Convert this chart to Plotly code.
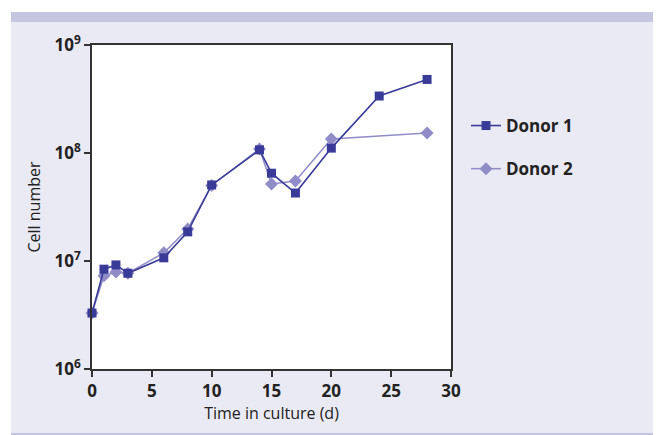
import plotly.graph_objects as go

days1 = [0, 1, 2, 3, 6, 8, 10, 14, 15, 17, 20, 24, 28]
donor1 = [3.3e6, 8.4e6, 9.2e6, 7.7e6, 1.07e7, 1.86e7, 5.06e7, 1.07e8, 6.5e7, 4.26e7, 1.11e8, 3.37e8, 4.8e8]
days2 = [0, 1, 2, 3, 6, 8, 10, 14, 15, 17, 20, 28]
donor2 = [3.3e6, 7.3e6, 7.9e6, 7.7e6, 1.19e7, 1.98e7, 5.0e7, 1.09e8, 5.16e7, 5.5e7, 1.35e8, 1.53e8]
ytick_vals = [1e6, 1e7, 1e8, 1e9]
ytick_text = ["10<sup>6</sup>", "10<sup>7</sup>", "10<sup>8</sup>", "10<sup>9</sup>"]
xtick_vals = [0, 5, 10, 15, 20, 25, 30]

C1 = "#3A3B98"
C2 = "#908CC8"
BG = "#EAEAF4"
BAND = "#C6C5E1"

# page has an 8px body margin; figure coordinates below are page coords minus 8
OFF = 8
W, H = 661, 435
L, R, T, B = 92 - OFF, 451 - OFF, 45 - OFF, 369 - OFF
pw, ph = R - L, B - T

def px(x):
    return (x - OFF - L) / pw

def py(y):
    return (B - (y - OFF)) / ph

fig = go.Figure()
fig.add_trace(go.Scatter(x=days2, y=donor2, name="Donor 2", mode="lines+markers",
                         legendgroup="d2", legendrank=2,
                         line=dict(color=C2, width=1.5),
                         marker=dict(symbol="diamond", size=10, color=C2)))
fig.add_trace(go.Scatter(x=days1, y=donor1, name="Donor 1", mode="lines+markers",
                         legendgroup="d1", legendrank=1,
                         line=dict(color=C1, width=1.6),
                         marker=dict(symbol="square", size=9, color=C1)))

shapes = [
    dict(type="rect", xref="paper", yref="paper", x0=px(0), x1=px(11), y0=py(H + 20), y1=py(0),
         fillcolor="white", line=dict(width=0), layer="below"),
    dict(type="rect", xref="paper", yref="paper", x0=px(0), x1=px(W + 20), y0=py(12), y1=py(0),
         fillcolor="white", line=dict(width=0), layer="below"),
    dict(type="rect", xref="paper", yref="paper", x0=px(11), x1=px(W + 20), y0=py(22), y1=py(12),
         fillcolor=BAND, line=dict(width=0), layer="below"),
    dict(type="rect", xref="paper", yref="paper", x0=px(11), x1=px(W + 20), y0=py(H + 20), y1=py(433),
         fillcolor=BAND, line=dict(width=0), layer="below"),
]

fig.update_layout(
    width=W, height=H,
    margin=dict(l=L, r=W - R, t=T, b=H - B),
    paper_bgcolor=BG, plot_bgcolor="white",
    font=dict(family="Open Sans, Noto Sans, sans-serif", color="#222222"),
    shapes=shapes,
    showlegend=True,
    legend=dict(x=px(466), y=py(108), xanchor="left", yanchor="top",
                bgcolor="rgba(0,0,0,0)", traceorder="grouped",
                font=dict(size=17, family="Open Sans, sans-serif", color="#222222", weight="bold"),
                itemwidth=30, tracegroupgap=18),
    xaxis=dict(range=[0, 30], tickvals=xtick_vals, ticks="outside", ticklen=6,
               tickwidth=1.5, tickcolor="#333", showline=True, linecolor="#333",
               linewidth=1.5, mirror=True, showgrid=False, zeroline=False,
               tickfont=dict(size=17, family="Open Sans, sans-serif", weight="bold"),
               title=dict(text="Time in culture (d)", font=dict(size=16), standoff=6)),
    yaxis=dict(type="log", range=[6, 9], tickvals=ytick_vals, ticktext=ytick_text,
               ticks="outside", ticklen=6, tickwidth=1.5, tickcolor="#333",
               showline=True, linecolor="#333", linewidth=1.5, mirror=True,
               showgrid=False, zeroline=False,
               tickfont=dict(size=17, family="Open Sans, sans-serif", weight="bold"),
               title=dict(text="Cell number", font=dict(size=16), standoff=10)),
)

fig.update_traces(cliponaxis=False)

fig.write_html("out.html")
